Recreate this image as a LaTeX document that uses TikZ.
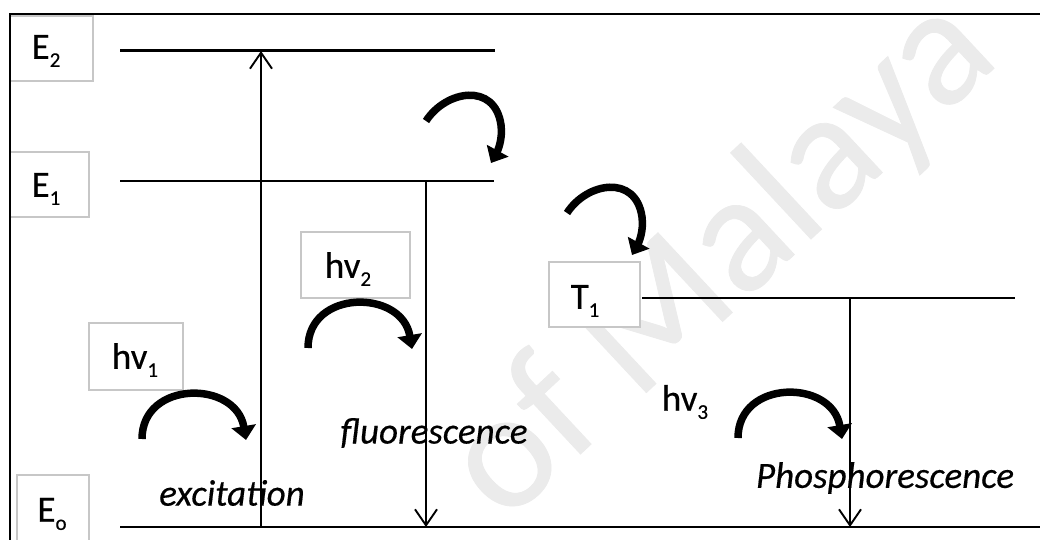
\documentclass[tikz,border=0pt]{standalone}
\usepackage{fontspec}
\setmainfont{Carlito}[FakeBold=0.4]
\usetikzlibrary{arrows.meta}
\newcommand{\lsub}[1]{\raisebox{-0.22em}{\fontsize{21}{21}\selectfont #1}}
\begin{document}
\begin{tikzpicture}[x=1pt,y=-1pt,
  lvl/.style={line width=2.6pt},
  vert/.style={line width=1.9pt,-{Straight Barb[length=16pt,width=22pt]}},
  lbox/.style={draw=black!22,line width=1.1pt,fill=white,inner sep=0pt},
  lab/.style={font=\fontsize{37}{40}\selectfont,inner sep=0pt},
  itl/.style={font=\fontsize{37}{40}\selectfont\itshape,inner sep=0pt},
  curv/.style={line width=7.5pt,-{Triangle[length=14pt,width=24pt]}},
  hop/.pic={\draw[curv] (0,0) .. controls (0,-59) and (94,-59) .. (104,1);},
  hook/.pic={\draw[curv] (0,0) .. controls (20,-31) and (69,-39) .. (75,4) .. controls (77,19) and (71,31) .. (65,42);},
]
\useasboundingbox (0,0) rectangle (1040,540);
\fill[white] (0,0) rectangle (1040,540);
% watermark
\node[text=black!8, font=\fontsize{170}{170}\selectfont, rotate=43, anchor=base east, inner sep=0pt] (wm) at (1002,61) {of Malaya};
% label boxes
\node[lbox, minimum width=83pt, minimum height=65pt] (bE2) at (51.5,48.5) {};
\node[lbox, minimum width=79pt, minimum height=65pt] (bE1) at (49.5,184.5) {};
\node[lbox, minimum width=72pt, minimum height=74pt] (bE0) at (53,512) {};
\node[lbox, minimum width=94pt, minimum height=67pt] (bh1) at (136,356.5) {};
\node[lbox, minimum width=109pt, minimum height=66pt] (bh2) at (355.5,265) {};
\node[lbox, minimum width=91pt, minimum height=65pt] (bT1) at (594.5,294.5) {};
% label texts
\node[lab] (tE2) at (46,51) {E\lsub{2}};
\node[lab] (tE1) at (46,189) {E\lsub{1}};
\node[lab] (tE0) at (52,514) {E\lsub{o}};
\node[lab] (th1) at (135,360) {hv\lsub{1}};
\node[lab] (th2) at (348,269) {hv\lsub{2}};
\node[lab] (tT1) at (585,301) {T\lsub{1}};
\node[lab] (th3) at (685,402) {hv\lsub{3}};
% italic labels
\node[itl] (exc) at (232,493) {excitation};
\node[itl] (flu) at (434,433) {fluorescence};
\node[itl] (pho) at (885,478) {Phosphorescence};
% frame
\draw[line width=2.4pt] (10,540) -- (10,14) -- (1040,14);
% levels
\coordinate (e2l) at (120,50.5); \coordinate (e2r) at (495,50.5);
\coordinate (e1l) at (120,181); \coordinate (e1r) at (494,181);
\coordinate (t1l) at (642,298); \coordinate (t1r) at (1015,298);
\coordinate (e0l) at (120,527); \coordinate (e0r) at (1040,527);
\draw[lvl] (e2l) -- (e2r);
\draw[lvl] (e1l) -- (e1r);
\draw[lvl] (t1l) -- (t1r);
\draw[lvl] (e0l) -- (e0r);
% vertical transitions
\coordinate (xa) at (261,527); \coordinate (xb) at (261,51);
\coordinate (fa) at (426,181); \coordinate (fb) at (426,527);
\coordinate (pa) at (850,298); \coordinate (pb) at (850,527);
\draw[vert] (xa) -- (xb);
\draw[vert] (fa) -- (fb);
\draw[vert] (pa) -- (pb);
% curved arrows
\pic (c1) at (142,439) {hop};
\pic (c2) at (308,348) {hop};
\pic (c3) at (738,438) {hop};
\pic (c4) at (426,121) {hook};
\pic (c5) at (567,213) {hook};
\end{tikzpicture}
\end{document}
